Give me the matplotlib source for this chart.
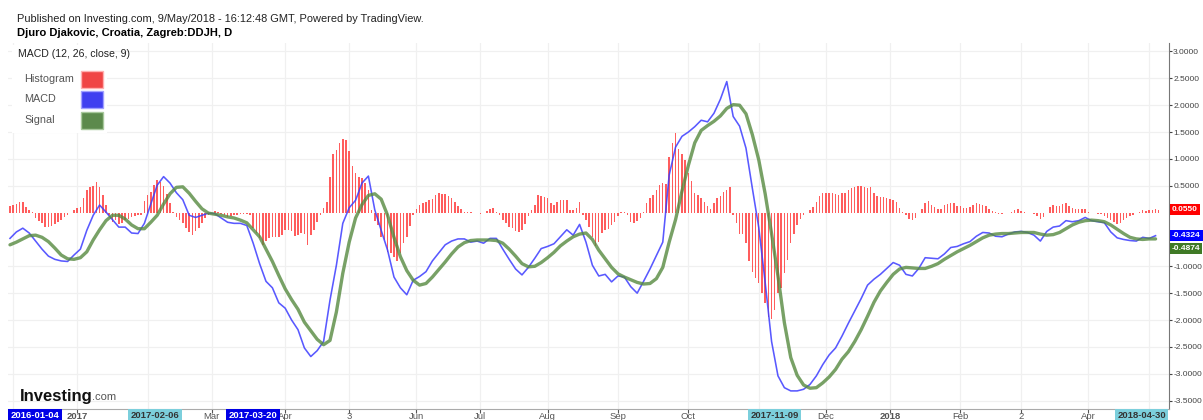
import matplotlib
matplotlib.use("Agg")
import matplotlib.pyplot as plt
import matplotlib.transforms as mtransforms
from matplotlib.patches import Rectangle
import numpy as np

plt.rcParams['font.family'] = ['Liberation Sans', 'DejaVu Sans']
plt.rcParams['axes.unicode_minus'] = False

# ---------------- data (daily bars, index 0 = first bar) ----------------
hist = [
    0.13, 0.15, 0.16, 0.19, 0.20, 0.11, 0.05, 0.01, -0.10, -0.15,
    -0.20, -0.26, -0.27, -0.25, -0.21, -0.17, -0.14, -0.09, -0.05, -0.01,
    0.05, 0.09, 0.11, 0.27, 0.43, 0.47, 0.50, 0.57, 0.48, 0.32,
    0.14, -0.05, -0.17, -0.14, -0.22, -0.19, -0.14, -0.11, -0.08, -0.07,
    -0.05, -0.04, 0.22, 0.33, 0.38, 0.52, 0.61, 0.57, 0.50, 0.35,
    0.18, 0.02, -0.08, -0.13, -0.19, -0.28, -0.37, -0.42, -0.34, -0.28,
    -0.20, -0.10, -0.04, 0.00, 0.03, 0.01, -0.03, -0.05, -0.08, -0.07,
    -0.05, -0.04, -0.03, -0.02, -0.03, -0.05, -0.28, -0.38, -0.47, -0.60,
    -0.52, -0.48, -0.45, -0.46, -0.45, -0.42, -0.32, -0.32, -0.35, -0.44,
    -0.42, -0.38, -0.40, -0.60, -0.42, -0.32, -0.17, -0.04, 0.08, 0.20,
    0.67, 1.10, 1.17, 1.29, 1.37, 1.35, 1.14, 0.87, 0.73, 0.67,
    0.64, 0.56, 0.42, 0.05, -0.15, -0.23, -0.45, -0.51, -0.73, -0.76,
    -0.82, -0.91, -0.75, -0.57, -0.45, -0.25, -0.05, 0.06, 0.14, 0.17,
    0.20, 0.24, 0.26, 0.33, 0.36, 0.34, 0.34, 0.30, 0.27, 0.19,
    0.12, 0.06, 0.02, 0.01, 0.01, 0.00, -0.01, -0.02, -0.01, 0.03,
    0.07, 0.08, 0.02, -0.05, -0.14, -0.20, -0.26, -0.29, -0.34, -0.37,
    -0.32, -0.21, -0.07, 0.05, 0.14, 0.33, 0.30, 0.29, 0.27, 0.17,
    0.14, 0.20, 0.24, 0.24, 0.24, 0.04, 0.04, 0.08, 0.19, -0.05,
    -0.14, -0.26, -0.45, -0.62, -0.55, -0.38, -0.33, -0.30, -0.24, -0.18,
    -0.06, 0.01, 0.01, -0.05, -0.17, -0.20, -0.16, -0.10, 0.02, 0.17,
    0.27, 0.33, 0.42, 0.51, 0.55, 0.53, 1.04, 1.29, 1.48, 1.18,
    1.10, 0.98, 0.73, 0.58, 0.37, 0.33, 0.27, 0.19, 0.12, 0.06,
    0.17, 0.28, 0.30, 0.39, 0.43, 0.47, -0.04, -0.20, -0.39, -0.39,
    -0.57, -0.91, -1.10, -1.22, -1.32, -1.50, -1.69, -1.94, -1.99, -1.81,
    -1.50, -1.41, -1.13, -0.88, -0.57, -0.40, -0.23, -0.12, -0.04, -0.01,
    0.04, 0.11, 0.20, 0.30, 0.36, 0.37, 0.37, 0.36, 0.35, 0.33,
    0.36, 0.37, 0.42, 0.45, 0.48, 0.50, 0.50, 0.48, 0.45, 0.47,
    0.36, 0.30, 0.29, 0.29, 0.28, 0.26, 0.24, 0.20, 0.08, 0.01,
    -0.04, -0.12, -0.14, -0.10, 0.00, 0.07, 0.17, 0.22, 0.15, 0.11,
    0.06, 0.07, 0.14, 0.16, 0.17, 0.18, 0.12, 0.12, 0.08, 0.09,
    0.11, 0.15, 0.17, 0.16, 0.15, 0.12, 0.07, 0.03, 0.01, -0.02,
    -0.03, 0.00, 0.00, 0.02, 0.04, 0.06, 0.03, 0.01, 0.00, -0.01,
    -0.03, -0.06, -0.11, -0.09, 0.00, 0.10, 0.14, 0.12, 0.13, 0.16,
    0.17, 0.13, 0.09, 0.07, 0.06, 0.06, 0.06, 0.01, 0.00, -0.01,
    -0.02, -0.03, -0.06, -0.10, -0.13, -0.17, -0.21, -0.19, -0.14, -0.10,
    -0.07, -0.04, -0.01, 0.01, 0.04, 0.03, 0.04, 0.04, 0.07, 0.055,
]

# MACD and signal, read every second bar (bars 0, 2, 4, ... 358)
macd = [
    -0.48, -0.36, -0.29, -0.38, -0.53, -0.68, -0.81, -0.87, -0.90, -0.91,
    -0.79, -0.68, -0.33, -0.05, 0.14, 0.01, -0.13, -0.27, -0.27, -0.38,
    -0.39, -0.20, 0.16, 0.51, 0.67, 0.55, 0.37, 0.24, -0.05, -0.09,
    -0.05, -0.01, -0.02, -0.10, -0.18, -0.20, -0.20, -0.24, -0.57, -0.95,
    -1.28, -1.40, -1.68, -1.78, -2.00, -2.18, -2.52, -2.68, -2.57, -2.40,
    -1.63, -0.98, -0.20, 0.09, 0.23, 0.55, 0.68, 0.05, -0.33, -0.70,
    -1.20, -1.40, -1.53, -1.26, -1.19, -1.10, -0.90, -0.75, -0.60, -0.53,
    -0.49, -0.49, -0.55, -0.53, -0.57, -0.48, -0.48, -0.68, -0.87, -1.05,
    -1.16, -1.02, -0.85, -0.67, -0.63, -0.58, -0.45, -0.32, -0.42, -0.22,
    -0.55, -0.98, -1.18, -1.15, -1.29, -1.18, -1.20, -1.38, -1.50, -1.28,
    -1.05, -0.80, -0.55, 0.70, 1.22, 1.42, 1.50, 1.60, 1.72, 1.69,
    1.85, 2.11, 2.44, 1.79, 1.61, 1.20, 0.45, -0.28, -1.30, -2.40,
    -3.04, -3.26, -3.32, -3.32, -3.29, -3.20, -3.04, -2.83, -2.65, -2.52,
    -2.30, -2.06, -1.83, -1.60, -1.35, -1.24, -1.15, -1.04, -0.93, -0.98,
    -1.15, -1.18, -1.04, -0.84, -0.85, -0.86, -0.77, -0.65, -0.63, -0.58,
    -0.54, -0.44, -0.37, -0.38, -0.44, -0.45, -0.40, -0.36, -0.35, -0.37,
    -0.42, -0.53, -0.35, -0.27, -0.25, -0.15, -0.17, -0.15, -0.09, -0.15,
    -0.17, -0.19, -0.36, -0.47, -0.50, -0.52, -0.53, -0.46, -0.48, -0.43,
]
signal = [
    -0.60, -0.55, -0.49, -0.43, -0.42, -0.46, -0.54, -0.66, -0.79, -0.86,
    -0.87, -0.84, -0.73, -0.51, -0.32, -0.15, -0.05, -0.05, -0.12, -0.23,
    -0.30, -0.30, -0.18, -0.05, 0.16, 0.35, 0.47, 0.48, 0.36, 0.21,
    0.07, -0.01, -0.03, -0.05, -0.08, -0.10, -0.14, -0.19, -0.32, -0.45,
    -0.68, -0.91, -1.17, -1.42, -1.62, -1.80, -2.04, -2.20, -2.36, -2.46,
    -2.38, -1.85, -1.13, -0.55, -0.10, 0.15, 0.32, 0.35, 0.25, -0.05,
    -0.46, -0.82, -1.08, -1.26, -1.35, -1.32, -1.20, -1.06, -0.92, -0.77,
    -0.64, -0.56, -0.52, -0.51, -0.51, -0.51, -0.52, -0.57, -0.68, -0.81,
    -0.95, -1.01, -1.00, -0.93, -0.84, -0.74, -0.62, -0.53, -0.45, -0.40,
    -0.38, -0.50, -0.70, -0.86, -1.02, -1.14, -1.20, -1.25, -1.30, -1.33,
    -1.32, -1.23, -1.02, -0.55, -0.13, 0.40, 0.88, 1.30, 1.53, 1.62,
    1.70, 1.80, 1.94, 2.01, 2.00, 1.84, 1.45, 0.98, 0.35, -0.39,
    -1.18, -2.05, -2.70, -3.03, -3.21, -3.27, -3.26, -3.17, -3.06, -2.92,
    -2.73, -2.59, -2.40, -2.18, -1.93, -1.67, -1.46, -1.30, -1.15, -1.05,
    -1.02, -1.03, -1.04, -1.04, -1.00, -0.95, -0.87, -0.80, -0.73, -0.67,
    -0.61, -0.54, -0.47, -0.42, -0.40, -0.39, -0.39, -0.38, -0.37, -0.37,
    -0.37, -0.40, -0.42, -0.41, -0.37, -0.30, -0.23, -0.18, -0.15, -0.14,
    -0.15, -0.17, -0.23, -0.31, -0.39, -0.46, -0.49, -0.50, -0.49, -0.49,
]

# month ticks (bar index) and their labels
tick_bars = [1, 21, 43, 63, 86, 106, 127, 147, 168, 190, 212, 234, 255, 275, 297, 316, 337, 356]
tick_labels = ['', '2017', '', 'Mar', 'Apr', '3', 'Jun', 'Jul', 'Aug', 'Sep', 'Oct', '',
               'Dec', '2018', 'Feb', '2', 'Apr', '']
bold_labels = ['2017', '2018']

# highlighted date markers on the time axis
date_marks = ['2016-01-04', '2017-02-06', '2017-03-20', '2017-11-09', '2018-04-30']
date_mark_bars = [7.8, 45.3, 75.9, 239.0, 353.6]
date_mark_dark = [True, False, True, False, False]

last_hist, last_macd, last_signal = 0.0550, -0.4324, -0.4874
y_ticks = [3.0, 2.5, 2.0, 1.5, 1.0, 0.5, -1.0, -1.5, -2.0, -2.5, -3.0, -3.5]

# ---------------- figure ----------------
W, H = 1203, 420
fig = plt.figure(figsize=(W / 100, H / 100), dpi=100)
fig.patch.set_facecolor('white')

ax_l, ax_r, ax_t, ax_b = 8, 1169, 43, 409
ax = fig.add_axes([ax_l / W, 1 - ax_b / H, (ax_r - ax_l) / W, (ax_b - ax_t) / H])

bar_idx = np.arange(len(hist))
line_idx = np.arange(len(macd)) * 2

ax.bar(bar_idx, hist, width=0.45, color='#ff4040', alpha=0.85, linewidth=0, zorder=2)
ax.plot(line_idx, macd, color='#3c3cff', lw=1.15, alpha=0.85, zorder=3, solid_joinstyle='round')
ax.plot(line_idx, signal, color='#568a40', lw=2.4, alpha=0.8, zorder=4, solid_capstyle='round')

ax.set_xlim(-0.625, 362.2)
ax.set_ylim(-3.657, 3.158)

ax.yaxis.tick_right()
ax.set_yticks(y_ticks)
ax.set_yticklabels(['%.4f' % v for v in y_ticks])
ax.tick_params(axis='y', labelsize=6.0, colors='#444444', length=2.2, width=0.8, pad=0.8)
ax.set_xticks(tick_bars)
ax.set_xticklabels(tick_labels)
for lab in ax.get_xticklabels():
    if lab.get_text() in bold_labels:
        lab.set_fontweight('bold')
ax.tick_params(axis='x', labelsize=6.8, colors='#555555', length=3, width=0.8, pad=-1)

for s in ['left', 'top']:
    ax.spines[s].set_visible(False)
ax.spines['right'].set_color('#777777')
ax.spines['bottom'].set_color('#aaaaaa')
ax.grid(True, color='#f0f0f0', lw=0.9, zorder=0)
ax.set_axisbelow(True)

# last value labels on the price axis
ytrans = mtransforms.blended_transform_factory(ax.transAxes, ax.transData)
for val, col, dy in [(last_hist, '#ff0000', 0), (last_macd, '#0000ff', 0), (last_signal, '#3f7a26', -7)]:
    ax.annotate('%.4f' % val, xy=(1.0, val), xycoords=ytrans, xytext=(2, dy), textcoords='offset points',
                ha='left', va='center', fontsize=6.0, fontweight='bold', color='white',
                bbox=dict(boxstyle='square,pad=0.25', fc=col, ec='none'), annotation_clip=False, zorder=6)

# date markers on time axis
xtrans = mtransforms.blended_transform_factory(ax.transData, ax.transAxes)
for lab, pos, dark in zip(date_marks, date_mark_bars, date_mark_dark):
    fc = '#0000e6' if dark else '#7ccfdc'
    tc = 'white' if dark else '#333333'
    ax.text(pos, -0.006, lab, transform=xtrans, ha='center', va='top', fontsize=6.8, fontweight='bold',
            color=tc, bbox=dict(boxstyle='square,pad=0.25', fc=fc, ec='none'), clip_on=False, zorder=7)

# header texts
fig.text(17 / W, 1 - 19 / H, 'Published on Investing.com, 9/May/2018 - 16:12:48 GMT, Powered by TradingView.',
         fontsize=7.95, color='#222222', va='center', ha='left')
fig.text(17 / W, 1 - 33 / H, 'Djuro Djakovic, Croatia, Zagreb:DDJH, D',
         fontsize=8.0, color='#000000', fontweight='bold', va='center', ha='left')

# legend panel
fig.patches.append(Rectangle((12 / W, 1 - 133 / H), 95 / W, 88 / H, transform=fig.transFigure,
                             fc='white', ec='none', zorder=5))
fig.text(18 / W, 1 - 54 / H, 'MACD (12, 26, close, 9)', fontsize=7.6, color='#222222', va='center', zorder=6)
legend_items = [('Histogram', '#f04545', '#ffb0b0'), ('MACD', '#4040f0', '#a0a0ff'), ('Signal', '#5c8a4c', '#a8c89c')]
for k, (name, fc, ec) in enumerate(legend_items):
    yc = 79 + k * 20.5
    fig.text(24 / W, 1 - yc / H, name, fontsize=7.8, color='#555555', va='center', zorder=6)
    fig.patches.append(Rectangle((81 / W, 1 - (yc + 8.5) / H), 22 / W, 17 / H, transform=fig.transFigure,
                                 fc=fc, ec=ec, lw=1.0, zorder=6))

# Investing.com logo
fig.text(20 / W, 1 - 396 / H, 'Investing', fontsize=12, fontweight='bold', color='#111111', va='center', ha='left')
fig.text(92 / W, 1 - 397 / H, '.com', fontsize=8, color='#555555', va='center', ha='left')

fig.savefig('out.png', dpi=100)
